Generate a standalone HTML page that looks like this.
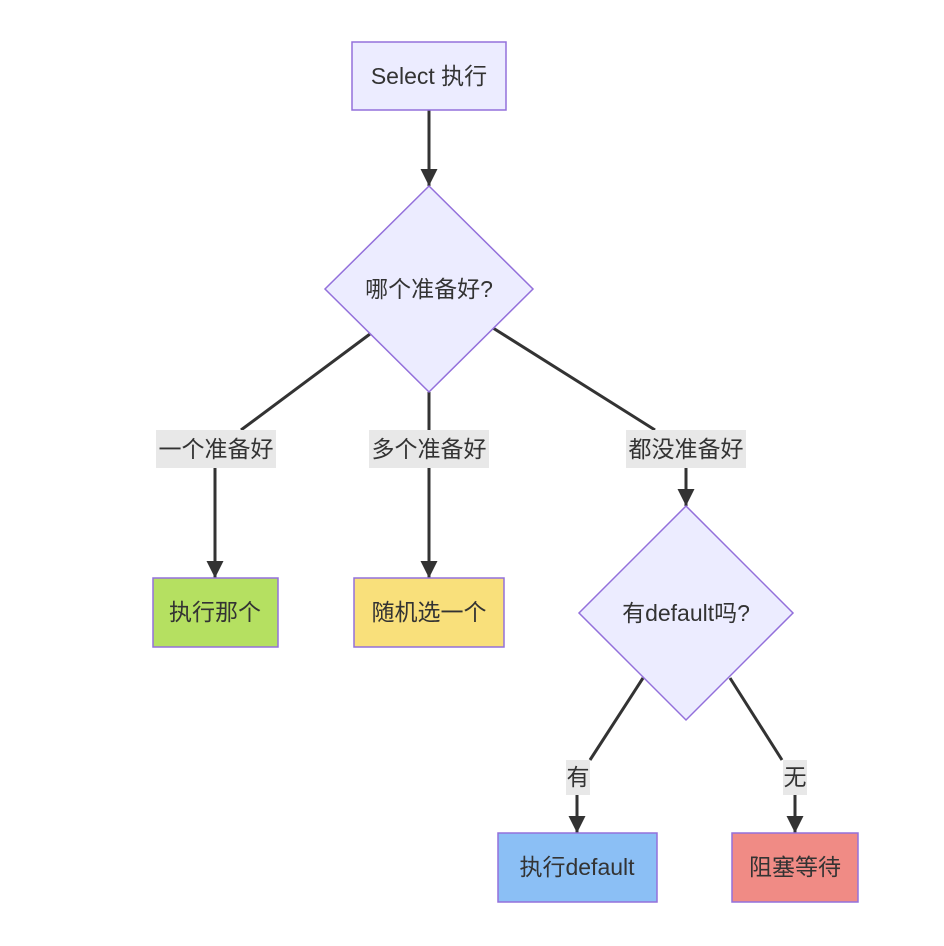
<!DOCTYPE html>
<html><head><meta charset="utf-8"><style>
html,body{margin:0;padding:0;background:#fff;}
svg text{font-family:"Liberation Sans","Noto Sans CJK SC",sans-serif;font-size:23px;fill:#333;}
</style></head><body>
<svg width="944" height="941" viewBox="0 0 944 941" xmlns="http://www.w3.org/2000/svg">
<defs>
<marker id="b" markerWidth="17" markerHeight="17" refX="17" refY="8.5" orient="auto" markerUnits="userSpaceOnUse" viewBox="0 0 17 17"><path d="M0,0 L17,8.5 L0,17 z" fill="#333"/></marker></defs>
<g stroke="#333" stroke-width="3" fill="none">
<path d="M429,110 L429,186" marker-end="url(#b)"/>
<path d="M370,334 L241,430"/><path d="M215,468 L215,578" marker-end="url(#b)"/>
<path d="M429,392 L429,430"/><path d="M429,468 L429,578" marker-end="url(#b)"/>
<path d="M493,328 L655,430"/><path d="M686,468 L686,506" marker-end="url(#b)"/>
<path d="M643,678 L590,760"/><path d="M577,795 L577,833" marker-end="url(#b)"/>
<path d="M730,678 L782,760"/><path d="M795,795 L795,833" marker-end="url(#b)"/>
</g>
<g stroke="#9370DB" stroke-width="1.5">
<rect x="352" y="42" width="154" height="68" fill="#ECECFF"/>
<polygon points="429,186 533,289 429,392 325,289" fill="#ECECFF"/>
<rect x="153" y="578" width="125" height="69" fill="#b5e061"/>
<rect x="354" y="578" width="150" height="69" fill="#f9e07b"/>
<polygon points="686,506 793,613 686,720 579,613" fill="#ECECFF"/>
<rect x="498" y="833" width="159" height="69" fill="#8bbff5"/>
<rect x="732" y="833" width="126" height="69" fill="#f08b85"/>
</g>
<g fill="#e8e8e8">
<rect x="156" y="430" width="120" height="38"/>
<rect x="369" y="430" width="120" height="38"/>
<rect x="626" y="430" width="120" height="38"/>
<rect x="566" y="760" width="24" height="35"/>
<rect x="783" y="760" width="24" height="35"/>
</g>
<g text-anchor="middle" dominant-baseline="central">
<text x="429" y="76">Select 执行</text>
<text x="429" y="289">哪个准备好?</text>
<text x="216" y="449">一个准备好</text>
<text x="429" y="449">多个准备好</text>
<text x="686" y="449">都没准备好</text>
<text x="215" y="612">执行那个</text>
<text x="429" y="612">随机选一个</text>
<text x="686" y="613">有default吗?</text>
<text x="578" y="777">有</text>
<text x="795" y="777">无</text>
<text x="577" y="867">执行default</text>
<text x="795" y="867">阻塞等待</text>
</g>
</svg>
</body></html>
